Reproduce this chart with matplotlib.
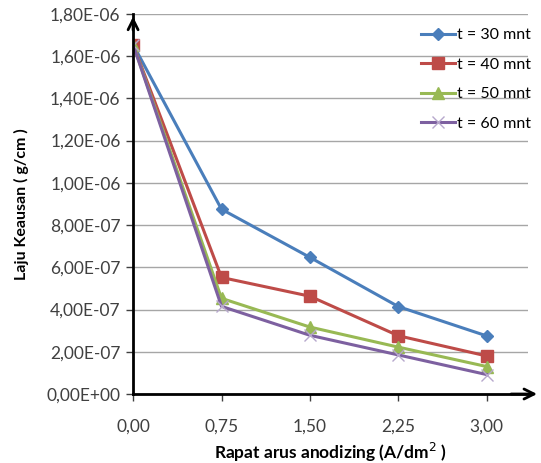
import matplotlib.pyplot as plt
from matplotlib.ticker import FuncFormatter

# data
rapat_arus = [0.0, 0.75, 1.50, 2.25, 3.00]
t30 = [1.655e-6, 8.75e-7, 6.47e-7, 4.14e-7, 2.75e-7]
t40 = [1.655e-6, 5.52e-7, 4.63e-7, 2.76e-7, 1.80e-7]
t50 = [1.655e-6, 4.53e-7, 3.17e-7, 2.22e-7, 1.30e-7]
t60 = [1.655e-6, 4.15e-7, 2.78e-7, 1.85e-7, 0.92e-7]
labels = ["t = 30 mnt", "t = 40 mnt", "t = 50 mnt", "t = 60 mnt"]
y_ticks = [i * 2e-7 for i in range(10)]

plt.rcParams['font.family'] = ['Lato', 'DejaVu Sans']

fig = plt.figure(figsize=(5.41, 4.63), dpi=100)
ax = fig.add_axes([0.246, 0.149, 0.73, 0.821])

ax.plot(rapat_arus, t30, color='#4A7EBB', lw=2.2, marker='D', ms=6, label=labels[0])
ax.plot(rapat_arus, t40, color='#BE4B48', lw=2.2, marker='s', ms=9, label=labels[1])
ax.plot(rapat_arus, t50, color='#98B954', lw=2.2, marker='^', ms=8, label=labels[2])
ax.plot(rapat_arus, t60, color='#7D60A0', lw=2.2, marker='x', ms=8, mew=1.0,
        mec='#B7A8CC', label=labels[3])

ax.set_xlim(0, 3.35)
ax.set_ylim(0, 1.8e-6)
ax.set_xticks(rapat_arus)
ax.set_yticks(y_ticks)
ax.xaxis.set_major_formatter(FuncFormatter(lambda v, p: f"{v:.2f}".replace('.', ',')))
ax.yaxis.set_major_formatter(FuncFormatter(lambda v, p: f"{v:.2E}".replace('.', ',')))
ax.tick_params(axis='both', labelsize=12.5, colors='#404040', length=5, width=1)
ax.tick_params(axis='x', pad=13)
ax.tick_params(axis='y', pad=4)
ax.grid(axis='y', color='#A6A6A6', lw=1)
ax.set_axisbelow(True)

for s in ['top', 'right']:
    ax.spines[s].set_visible(False)
for s in ['left', 'bottom']:
    ax.spines[s].set_linewidth(2)
    ax.spines[s].set_color('black')

# arrow heads on the axes
ax.annotate('', xy=(0, 1.0), xycoords='axes fraction', xytext=(0, 0.95),
            arrowprops=dict(arrowstyle='->', lw=2, color='black', mutation_scale=18))
ax.annotate('', xy=(1.03, 0), xycoords='axes fraction', xytext=(0.95, 0),
            arrowprops=dict(arrowstyle='->', lw=2, color='black', mutation_scale=18),
            annotation_clip=False)

ax.set_xlabel("Rapat arus anodizing (A/dm$^2$ )", fontsize=12.5, fontweight='bold', labelpad=4)
ax.set_ylabel("Laju Keausan ( g/cm )", fontsize=11.5, fontweight='bold', labelpad=13)

ax.legend(loc='upper right', bbox_to_anchor=(1.045, 1.0), frameon=False, fontsize=11.5,
          handlelength=2.1, labelspacing=0.95, handletextpad=0.15)

plt.savefig("out.png", dpi=100)
